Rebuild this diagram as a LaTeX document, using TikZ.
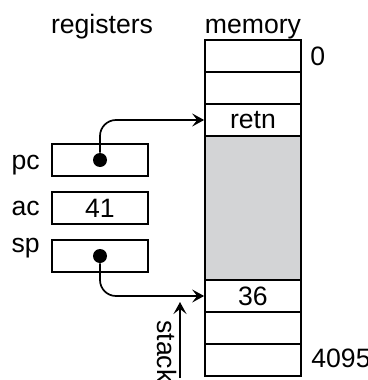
\documentclass[tikz,border=0pt]{standalone}
\usepackage{fontspec}
\setmainfont{Liberation Sans}
\usetikzlibrary{arrows.meta}
\definecolor{stackgray}{RGB}{211,212,214}

\begin{document}
\begin{tikzpicture}[x=0.5pt,y=-0.5pt]
  \tikzstyle{every node}=[font=\fontsize{13.3}{15}\selectfont]
  \tikzstyle{reg}=[rectangle, draw, line width=0.85pt, minimum width=48pt, minimum height=16pt, inner sep=0pt]
  \tikzstyle{cell}=[rectangle, draw, line width=0.85pt, minimum width=48pt, minimum height=16pt, inner sep=0pt, fill=white]
  \tikzstyle{free}=[cell, fill=stackgray, minimum height=72pt]
  \tikzstyle{dot}=[circle, fill, inner sep=0pt, minimum size=7pt]
  \tikzstyle{tip}=[-{Stealth[length=6pt, width=6.5pt, inset=2.5pt]}]
  \tikzstyle{ptr}=[tip, line width=0.85pt, rounded corners=8pt]
  \tikzstyle{lbl}=[inner sep=0pt, anchor=base east]

  \useasboundingbox (0,0) rectangle (368,380);

  % headings
  \node[inner sep=0pt, anchor=base] (reghead) at (102, 33) {registers};
  \node[inner sep=0pt, anchor=base] (memhead) at (253, 33) {memory};

  % memory column
  \node[cell] (mem0) at (253, 56)  {};
  \node[cell] (mem1) at (253, 88)  {};
  \node[cell] (mem2) at (253, 120) {retn};
  \node[free] (gap)  at (253, 208) {};
  \node[cell] (mem3) at (253, 296) {36};
  \node[cell] (mem4) at (253, 328) {};
  \node[cell] (mem5) at (253, 360) {};

  \node[inner sep=0pt, anchor=base west] (first) at (310, 65)  {0};
  \node[inner sep=0pt, anchor=base west] (last)  at (311, 367) {4095};

  % registers
  \node[reg] (pc) at (100, 160) {};
  \node[reg] (ac) at (100, 208) {41};
  \node[reg] (sp) at (100, 256) {};

  \node[lbl] (pclbl) at (40, 169) {pc};
  \node[lbl] (aclbl) at (40, 215) {ac};
  \node[lbl] (splbl) at (40, 252) {sp};

  \node[dot] (pcdot) at (pc.center) {};
  \node[dot] (spdot) at (sp.center) {};

  \draw[ptr] (pcdot) |- (mem2.west);
  \draw[ptr] (spdot) |- (mem3.west);

  % stack direction
  \coordinate (stackfoot) at (180, 378);
  \coordinate (stacktop)  at (180, 302);
  \draw[tip, line width=0.85pt] (stackfoot) -- (stacktop);
  \node[inner sep=0pt, anchor=base west, rotate=-90] (stacklbl) at (157, 320) {stack};
\end{tikzpicture}
\end{document}
